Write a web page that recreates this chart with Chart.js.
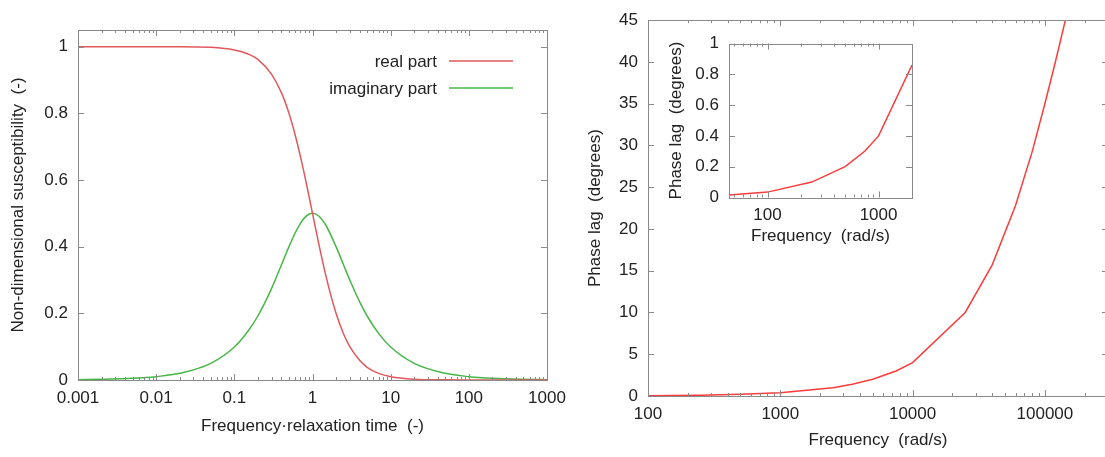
<!DOCTYPE html>
<html>
<head>
<meta charset="utf-8">
<script src="https://cdn.jsdelivr.net/npm/chart.js@4.4.1/dist/chart.umd.min.js"></script>
<style>
  html, body { margin: 0; padding: 0; background: #fff; width: 1105px; height: 457px; overflow: hidden; }
  canvas { position: absolute; }
</style>
</head>
<body>
<canvas id="susChart" width="600" height="457" style="left:0;top:0"></canvas>
<canvas id="lagChart" width="560" height="457" style="left:560px;top:0"></canvas>
<canvas id="insetChart" width="270" height="240" style="left:660px;top:20px"></canvas>
<script>
// left panel: non-dimensional susceptibility vs frequency*relaxation time
var freqTau = [0.001, 0.002, 0.005, 0.01, 0.02, 0.05, 0.1, 0.15, 0.2, 0.3, 0.4, 0.5, 0.6, 0.7, 0.8, 1, 1.2, 1.5, 2, 2.5, 3, 4, 5, 7, 10, 20, 50, 100, 200, 500, 1000];
var realPart = [1, 1, 1, 1, 1, 0.998, 0.99, 0.978, 0.962, 0.917, 0.862, 0.8, 0.735, 0.671, 0.61, 0.5, 0.41, 0.308, 0.2, 0.138, 0.1, 0.059, 0.038, 0.02, 0.01, 0.0025, 0.0004, 0.0001, 0, 0, 0];
var imagPart = [0.001, 0.002, 0.005, 0.01, 0.02, 0.05, 0.099, 0.147, 0.192, 0.275, 0.345, 0.4, 0.441, 0.47, 0.488, 0.5, 0.492, 0.462, 0.4, 0.345, 0.3, 0.235, 0.192, 0.14, 0.099, 0.05, 0.02, 0.01, 0.005, 0.002, 0.001];
var susXTicks = [0.001, 0.01, 0.1, 1, 10, 100, 1000];
var susYTicks = [0, 0.2, 0.4, 0.6, 0.8, 1];

// right panel: phase lag vs frequency
var omega = [100, 250, 500, 1000, 2500, 3500, 5000, 7500, 10000, 25000, 40000, 60000, 80000, 100000, 120000, 150000];
var phaseLag = [0.04, 0.1, 0.2, 0.4, 1.0, 1.4, 2.0, 3.0, 4.0, 10.0, 15.7, 22.8, 29.2, 35.0, 40.0, 46.4];
var lagXTicks = [100, 1000, 10000, 100000];
var lagYTicks = [0, 5, 10, 15, 20, 25, 30, 35, 40, 45];

// inset: low-frequency zoom
var insetOmega = [45, 100, 250, 500, 750, 1000, 2000];
var insetLag = [0.016, 0.035, 0.1, 0.2, 0.3, 0.4, 0.86];
var insetXTicks = [100, 1000];
var insetYTicks = [0, 0.2, 0.4, 0.6, 0.8, 1];

var FONT = '"Liberation Sans", Arial, sans-serif';
var TEXT = '#222';
var FRAME = '#8a8a8a';

function pts(xs, ys) {
  return xs.map(function(x, i) { return {x: x, y: ys[i]}; });
}

function minorLogTicks(min, max) {
  var out = [];
  for (var d = Math.floor(Math.log10(min)); d <= Math.ceil(Math.log10(max)); d++) {
    for (var m = 2; m <= 9; m++) {
      var v = m * Math.pow(10, d);
      if (v > min && v < max) out.push(v);
    }
  }
  return out;
}

// gnuplot style box with inward tick marks on all four sides
var framePlugin = {
  id: 'frame',
  afterDatasetsDraw: function(chart) {
    var ctx = chart.ctx, a = chart.chartArea;
    var xs = chart.scales.x, ys = chart.scales.y;
    ctx.save();
    ctx.strokeStyle = FRAME;
    ctx.lineWidth = 1;
    function seg(x1, y1, x2, y2) { ctx.beginPath(); ctx.moveTo(x1, y1); ctx.lineTo(x2, y2); ctx.stroke(); }
    ctx.strokeRect(Math.round(a.left) + 0.5, Math.round(a.top) + 0.5, Math.round(a.right - a.left), Math.round(a.bottom - a.top));
    xs.ticks.forEach(function(t) {
      var px = Math.round(xs.getPixelForValue(t.value)) + 0.5;
      seg(px, a.bottom, px, a.bottom - 6);
      seg(px, a.top, px, a.top + 6);
    });
    minorLogTicks(xs.min, xs.max).forEach(function(v) {
      var px = Math.round(xs.getPixelForValue(v)) + 0.5;
      seg(px, a.bottom, px, a.bottom - 3);
      seg(px, a.top, px, a.top + 3);
    });
    ys.ticks.forEach(function(t) {
      var py = Math.round(ys.getPixelForValue(t.value)) + 0.5;
      seg(a.left, py, a.left + 6, py);
      seg(a.right, py, a.right - 6, py);
    });
    ctx.restore();
  }
};

// key drawn text-first like gnuplot
var keyPlugin = {
  id: 'gnuKey',
  afterDraw: function(chart) {
    if (chart.canvas.id !== 'susChart') return;
    var ctx = chart.ctx, a = chart.chartArea;
    ctx.save();
    ctx.font = '17px ' + FONT;
    ctx.textAlign = 'right';
    ctx.textBaseline = 'middle';
    chart.data.datasets.forEach(function(ds, i) {
      var y = a.top + 31 + i * 27;
      ctx.fillStyle = TEXT;
      ctx.fillText(ds.label, a.right - 110, y + 1);
      ctx.strokeStyle = ds.borderColor;
      ctx.lineWidth = 1.5;
      ctx.beginPath();
      ctx.moveTo(a.right - 98, y);
      ctx.lineTo(a.right - 34, y);
      ctx.stroke();
    });
    ctx.restore();
  }
};

function fixed(list) {
  return function(scale) { scale.ticks = list.map(function(v) { return {value: v}; }); };
}

function axisOpts(type, min, max, tickList, size, fitSize, isX, fmt, title, titlePad) {
  return {
    type: type,
    min: min,
    max: max,
    afterBuildTicks: fixed(tickList),
    afterFit: function(scale) { if (isX) scale.height = fitSize; else scale.width = fitSize; },
    grid: { display: false, drawTicks: false },
    border: { display: false },
    ticks: {
      autoSkip: false,
      maxRotation: 0,
      padding: isX ? 8 : 10,
      color: TEXT,
      font: { family: FONT, size: size },
      callback: fmt
    },
    title: {
      display: true,
      text: title,
      color: TEXT,
      font: { family: FONT, size: 17 },
      padding: titlePad
    }
  };
}

Chart.register(framePlugin, keyPlugin);
Chart.defaults.animation = false;

var common = {
  responsive: false,
  animation: false,
  plugins: { legend: { display: false }, tooltip: { enabled: false } },
  elements: { point: { radius: 0 } }
};

new Chart(document.getElementById('susChart').getContext('2d'), {
  type: 'line',
  data: {
    datasets: [{
      label: 'real part',
      data: pts(freqTau, realPart),
      borderColor: 'rgb(226, 88, 90)',
      borderWidth: 1.5,
      cubicInterpolationMode: 'monotone'
    }, {
      label: 'imaginary part',
      data: pts(freqTau, imagPart),
      borderColor: 'rgb(72, 182, 72)',
      borderWidth: 1.5,
      cubicInterpolationMode: 'monotone'
    }]
  },
  options: Object.assign({}, common, {
    layout: { padding: { top: 30, right: 53, left: 0, bottom: 0 } },
    scales: {
      x: axisOpts('logarithmic', 0.001, 1000, susXTicks, 17, 77, true,
        function(v) { return String(v); }, 'Frequency\u00b7relaxation time  (-)', { top: 0, bottom: 20 }),
      y: axisOpts('linear', 0, 1.05, susYTicks, 17, 78, false,
        function(v) { return String(+v.toFixed(1)); }, 'Non-dimensional susceptibility  (-)', { top: 8, bottom: 0 })
    }
  })
});

new Chart(document.getElementById('lagChart').getContext('2d'), {
  type: 'line',
  data: {
    datasets: [{
      label: 'phase lag',
      data: pts(omega, phaseLag),
      borderColor: 'rgb(250, 60, 60)',
      borderWidth: 1.5,
      tension: 0
    }]
  },
  options: Object.assign({}, common, {
    layout: { padding: { top: 16, right: 12, left: 0, bottom: 0 } },
    scales: {
      x: axisOpts('logarithmic', 100, 300000, lagXTicks, 17, 61, true,
        function(v) { return String(v); }, 'Frequency  (rad/s)', { top: 0, bottom: 6 }),
      y: axisOpts('linear', 0, 45, lagYTicks, 17, 88, false,
        function(v) { return String(v); }, 'Phase lag  (degrees)', { top: 25, bottom: 0 })
    }
  })
});

new Chart(document.getElementById('insetChart').getContext('2d'), {
  type: 'line',
  data: {
    datasets: [{
      label: 'phase lag',
      data: pts(insetOmega, insetLag),
      borderColor: 'rgb(250, 60, 60)',
      borderWidth: 1.5,
      tension: 0
    }]
  },
  options: Object.assign({}, common, {
    layout: { padding: { top: 23.5, right: 18, left: 0, bottom: 0 } },
    scales: {
      x: axisOpts('logarithmic', 45, 2000, insetXTicks, 17, 62.5, true,
        function(v) { return String(v); }, 'Frequency  (rad/s)', { top: 0, bottom: 13 }),
      y: axisOpts('linear', 0, 1, insetYTicks, 17, 69, false,
        function(v) { return String(+v.toFixed(1)); }, 'Phase lag  (degrees)', { top: 6, bottom: 0 })
    }
  })
});
</script>
</body>
</html>
